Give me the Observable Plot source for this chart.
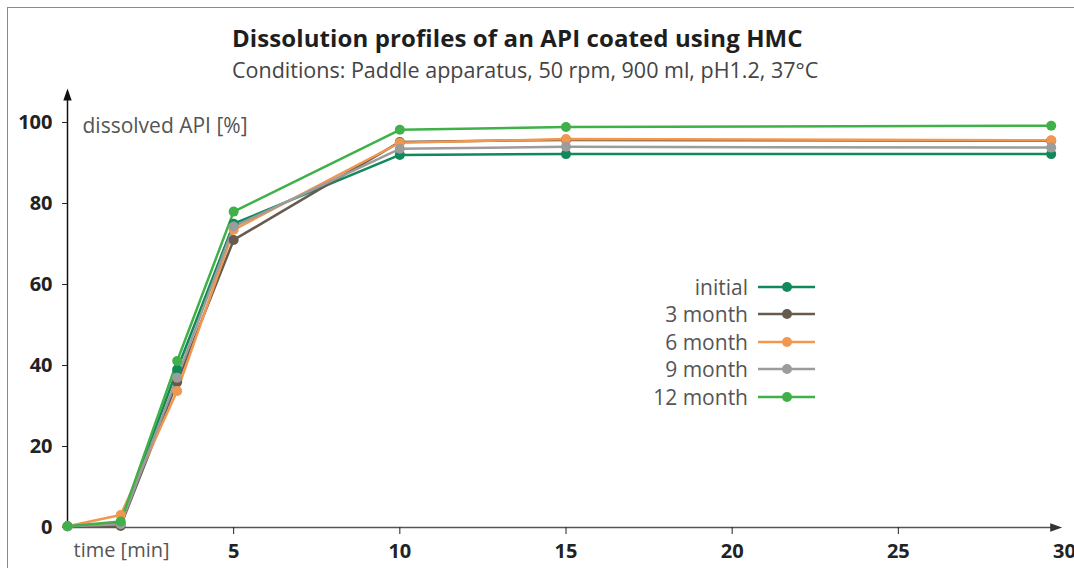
<!DOCTYPE html>
<html>
<head>
<meta charset="utf-8">
<script src="https://cdn.jsdelivr.net/npm/d3@7"></script>
<script src="https://cdn.jsdelivr.net/npm/@observablehq/plot@0.6"></script>
<style>
  html, body { margin: 0; padding: 0; background: #fff; }
  body { width: 1074px; height: 568px; overflow: hidden; position: relative; font-family: "Open Sans", sans-serif; }
  #frame { position: absolute; left: 7px; top: 7px; width: 1200px; height: 700px; border-top: 1px solid #8a8a8a; border-left: 1px solid #8a8a8a; pointer-events: none; }
  #title { position: absolute; left: 232px; top: 25px; font-size: 24px; letter-spacing: 0.1px; font-weight: 700; color: #1e1e1e; line-height: 26px; white-space: nowrap; }
  #subtitle { position: absolute; left: 232px; top: 58px; font-size: 21.5px; color: #444; line-height: 24px; white-space: nowrap; }
  #chart { position: absolute; left: 0; top: 85px; }
  #legend { position: absolute; left: 600px; top: 273px; }
  .row { display: flex; align-items: center; height: 27.5px; }
  .row span { width: 148px; text-align: right; font-size: 21px; color: #555; }
  .row svg { margin-left: 10px; }
</style>
</head>
<body>
<div id="title">Dissolution profiles of an API coated using HMC</div>
<div id="subtitle">Conditions: Paddle apparatus, 50 rpm, 900 ml, pH1.2, 37°C</div>
<div id="chart"></div>
<div id="legend"></div>
<div id="frame"></div>
<script>
// ---- data ----
const times = [0, 1.6, 3.3, 5, 10, 15, 29.6];
const seriesNames = ["initial", "3 month", "6 month", "9 month", "12 month"];
const initial  = [0.3, 1.0, 39.0, 75.0, 92.0, 92.2, 92.2];
const month3   = [0.3, 0.4, 35.9, 71.0, 95.2, 95.7, 95.5];
const month6   = [0.3, 3.1, 33.7, 73.5, 95.0, 95.9, 95.6];
const month9   = [0.3, 0.8, 37.0, 74.3, 93.5, 94.0, 93.8];
const month12  = [0.3, 1.5, 41.1, 78.0, 98.2, 98.9, 99.2];
const seriesColors = ["#12895a", "#675b4f", "#f2974f", "#9c9c9c", "#3fb04a"];
const yTicks = [0, 20, 40, 60, 80, 100];
const xTicks = [5, 10, 15, 20, 25];
const xLastTick = [30];
const yLabel = "dissolved API [%]";
const xLabel = "time [min]";

const seriesValues = [initial, month3, month6, month9, month12];
const data = seriesNames.flatMap((s, i) =>
  times.map((t, j) => ({series: s, time: t, value: seriesValues[i][j]})));

const arrowUp = {draw(ctx) { ctx.moveTo(0, 0); ctx.lineTo(4.2, 12); ctx.lineTo(-4.2, 12); ctx.closePath(); }};
const arrowRight = {draw(ctx) { ctx.moveTo(0, 0); ctx.lineTo(-12, 4.2); ctx.lineTo(-12, -4.2); ctx.closePath(); }};

const chart = Plot.plot({
  width: 1074,
  height: 483,
  marginTop: 37,
  marginBottom: 41,
  marginLeft: 67,
  marginRight: 10,
  x: {domain: [0, 30]},
  y: {domain: [0, 100]},
  color: {domain: seriesNames, range: seriesColors},
  style: {fontFamily: "'Open Sans', sans-serif", background: "transparent", overflow: "visible"},
  marks: [
    Plot.ruleY([0], {x1: 0, x2: 29.7, stroke: "#555", strokeWidth: 1.5}),
    Plot.dot([{x: 29.93, y: 0}], {x: "x", y: "y", symbol: arrowRight, fill: "#333", stroke: "none"}),
    Plot.ruleX([0], {y1: 0, y2: 106, stroke: "#111", strokeWidth: 1.5}),
    Plot.dot([{x: 0, y: 108.4}], {x: "x", y: "y", symbol: arrowUp, fill: "#111", stroke: "none"}),
    Plot.axisY({ticks: yTicks, tickSize: 5, tickPadding: 10, fontSize: 20, fontWeight: "bold", color: "#222", label: null}),
    Plot.axisX({ticks: xTicks, tickSize: 7, tickPadding: 9, fontSize: 20, fontWeight: "bold", color: "#222", label: null}),
    Plot.axisX({ticks: xLastTick, tickSize: 0, tickPadding: 16, fontSize: 20, fontWeight: "bold", color: "#222", label: null}),
    Plot.text([yLabel], {x: 0, y: 100, text: d => d, dx: 15, dy: 4, textAnchor: "start", fontSize: 21, fill: "#555"}),
    Plot.text([xLabel], {x: 0, y: 0, text: d => d, dx: 6, dy: 23, textAnchor: "start", fontSize: 20, fill: "#555"}),
    Plot.line(data, {x: "time", y: "value", stroke: "series", strokeWidth: 2.5}),
    Plot.dot(data, {x: "time", y: "value", fill: "series", r: 5})
  ]
});
document.getElementById("chart").append(chart);

// legend
const legend = d3.select("#legend");
seriesNames.forEach((name, i) => {
  const row = legend.append("div").attr("class", "row");
  row.append("span").text(name);
  const svg = row.append("svg").attr("width", 58).attr("height", 12);
  svg.append("line").attr("x1", 0).attr("x2", 57).attr("y1", 6).attr("y2", 6)
    .attr("stroke", seriesColors[i]).attr("stroke-width", 2.5);
  svg.append("circle").attr("cx", 29).attr("cy", 6).attr("r", 5).attr("fill", seriesColors[i]);
});
</script>
</body>
</html>
